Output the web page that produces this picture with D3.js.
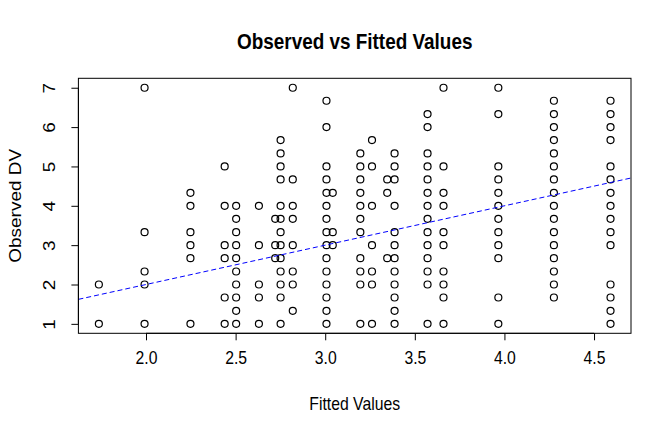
<!DOCTYPE html>
<html>
<head>
<meta charset="utf-8">
<script src="https://cdn.jsdelivr.net/npm/d3@7"></script>
<style>
  body { margin: 0; background: #fff; }
  text { font-family: "Liberation Sans", Arial, Helvetica, sans-serif; fill: #000; }
</style>
</head>
<body>
<svg id="chart"></svg>
<script>
// fitted value of each column of points (x), and the observed DV values in that column (y)
const fittedLevels = [1.737, 1.992, 2.248, 2.439, 2.503, 2.630, 2.721, 2.751, 2.819, 3.007,
  3.042, 3.196, 3.261, 3.346, 3.387, 3.571, 3.660, 3.966, 4.276, 4.592];
const observedByLevel = [
  [2, 1],
  [7, 3.33, 2.33, 2, 1],
  [4.33, 4, 3.33, 3, 2.67, 1],
  [5, 4, 3, 2.67, 1.67, 1],
  [4, 3.67, 3.33, 3, 2.67, 2.33, 2, 1.67, 1.33, 1],
  [4, 3, 2, 1.67, 1],
  [3.67, 3, 2.67],
  [5.67, 5.33, 5, 4.67, 4, 3.67, 3.33, 3, 2.67, 2.33, 2, 1.67, 1],
  [7, 4.67, 4, 3.67, 3, 2.33, 2, 1.33],
  [6.67, 6, 5, 4.67, 4.33, 4, 3.67, 3.33, 3, 2.67, 2.33, 2, 1.67, 1.33, 1],
  [4.33, 3.33, 3],
  [5.33, 5, 4.67, 4.33, 4, 3.67, 3.33, 2.67, 2.33, 2, 1],
  [5.67, 5, 4, 3, 2.33, 2, 1],
  [4.67, 4.33, 2.67],
  [5.33, 5, 4.67, 4, 3.33, 3, 2.67, 2.33, 2, 1.67, 1.33, 1],
  [6.33, 6, 5.33, 5, 4.67, 4.33, 4, 3.67, 3.33, 3, 2.67, 2.33, 2, 1],
  [7, 5, 4.33, 4, 3.33, 3, 2.33, 2, 1.67, 1],
  [7, 6.33, 5, 4.67, 4.33, 4, 3.67, 3.33, 3, 2.67, 1.67, 1],
  [6.67, 6.33, 6, 5.67, 5.33, 5, 4.67, 4.33, 4, 3.67, 3.33, 3, 2.67, 2.33, 2, 1.67],
  [6.67, 6.33, 6, 5.67, 5, 4.67, 4.33, 4, 3.67, 3.33, 3, 2, 1.67, 1.33, 1]
];
const xTicks = [2.0, 2.5, 3.0, 3.5, 4.0, 4.5];
const yTicks = [1, 2, 3, 4, 5, 6, 7];
// reference line y = a + b x
const lineIntercept = 0;
const lineSlope = 1;

const width = 672, height = 432;
const plot = { left: 78.4, right: 631, top: 78.3, bottom: 333.3 };
const squeeze = 0.83; // text in the reference is horizontally narrow
const fontSize = 19;

const points = [];
fittedLevels.forEach((f, i) => observedByLevel[i].forEach(o => points.push({ x: f, y: o })));

// R style 4% padding of data range
function padded(ext) {
  const d = (ext[1] - ext[0]) * 0.04;
  return [ext[0] - d, ext[1] + d];
}

const xScale = d3.scaleLinear().domain(padded(d3.extent(points, d => d.x))).range([plot.left, plot.right]);
const yScale = d3.scaleLinear().domain(padded(d3.extent(points, d => d.y))).range([plot.bottom, plot.top]);

const svg = d3.select('#chart').attr('width', width).attr('height', height);

svg.append('defs').append('clipPath').attr('id', 'clip')
  .append('rect')
  .attr('x', plot.left).attr('y', plot.top)
  .attr('width', plot.right - plot.left).attr('height', plot.bottom - plot.top);

// points
svg.append('g')
  .selectAll('circle')
  .data(points)
  .enter()
  .append('circle')
  .attr('cx', d => xScale(d.x))
  .attr('cy', d => yScale(d.y))
  .attr('r', 3.5)
  .attr('fill', 'none')
  .attr('stroke', '#000')
  .attr('stroke-width', 1.2);

// dashed reference line
const xd = xScale.domain();
svg.append('line')
  .attr('clip-path', 'url(#clip)')
  .attr('x1', xScale(xd[0])).attr('y1', yScale(lineIntercept + lineSlope * xd[0]))
  .attr('x2', xScale(xd[1])).attr('y2', yScale(lineIntercept + lineSlope * xd[1]))
  .attr('stroke', '#0000ff')
  .attr('stroke-width', 1)
  .attr('stroke-dasharray', '5,3');

// box
svg.append('rect')
  .attr('x', plot.left).attr('y', plot.top)
  .attr('width', plot.right - plot.left).attr('height', plot.bottom - plot.top)
  .attr('fill', 'none').attr('stroke', '#000').attr('stroke-width', 1);

// x axis
const xAxis = svg.append('g')
  .attr('transform', `translate(0,${plot.bottom})`)
  .call(d3.axisBottom(xScale).tickValues(xTicks).tickFormat(d3.format('.1f')).tickSizeOuter(0).tickSize(7));
xAxis.select('.domain')
  .attr('d', `M${xScale(xTicks[0])},0H${xScale(xTicks[xTicks.length - 1])}`);
xAxis.selectAll('.tick line').attr('stroke', '#000');
xAxis.selectAll('.tick text')
  .attr('y', 0).attr('dy', null)
  .attr('transform', `translate(0,31) scale(${squeeze},1)`)
  .style('font-size', fontSize + 'px');

// y axis, labels turned like R's default
const yAxis = svg.append('g')
  .attr('transform', `translate(${plot.left},0)`)
  .call(d3.axisLeft(yScale).tickValues(yTicks).tickFormat(d3.format('d')).tickSizeOuter(0).tickSize(7));
yAxis.select('.domain')
  .attr('d', `M0,${yScale(yTicks[0])}V${yScale(yTicks[yTicks.length - 1])}`);
yAxis.selectAll('.tick text')
  .attr('x', 0).attr('dy', null)
  .attr('text-anchor', 'middle')
  .attr('transform', `translate(-23.5,0) scale(${squeeze},1) rotate(-90)`)
  .style('font-size', fontSize + 'px');

svg.selectAll('.tick text').style('font-family', '"Liberation Sans", Arial, sans-serif').attr('fill', '#000');

// titles
svg.append('text')
  .attr('text-anchor', 'middle')
  .attr('transform', `translate(${(plot.left + plot.right) / 2},49) scale(${squeeze},1)`)
  .style('font-size', (fontSize * 1.2) + 'px')
  .style('font-weight', 'bold')
  .text('Observed vs Fitted Values');

svg.append('text')
  .attr('text-anchor', 'middle')
  .attr('transform', `translate(${(plot.left + plot.right) / 2},410) scale(${squeeze},1)`)
  .style('font-size', fontSize + 'px')
  .text('Fitted Values');

svg.append('text')
  .attr('text-anchor', 'middle')
  .attr('transform', `translate(20.5,${(plot.top + plot.bottom) / 2}) scale(${squeeze},1) rotate(-90)`)
  .style('font-size', fontSize + 'px')
  .text('Observed DV');
</script>
</body>
</html>
